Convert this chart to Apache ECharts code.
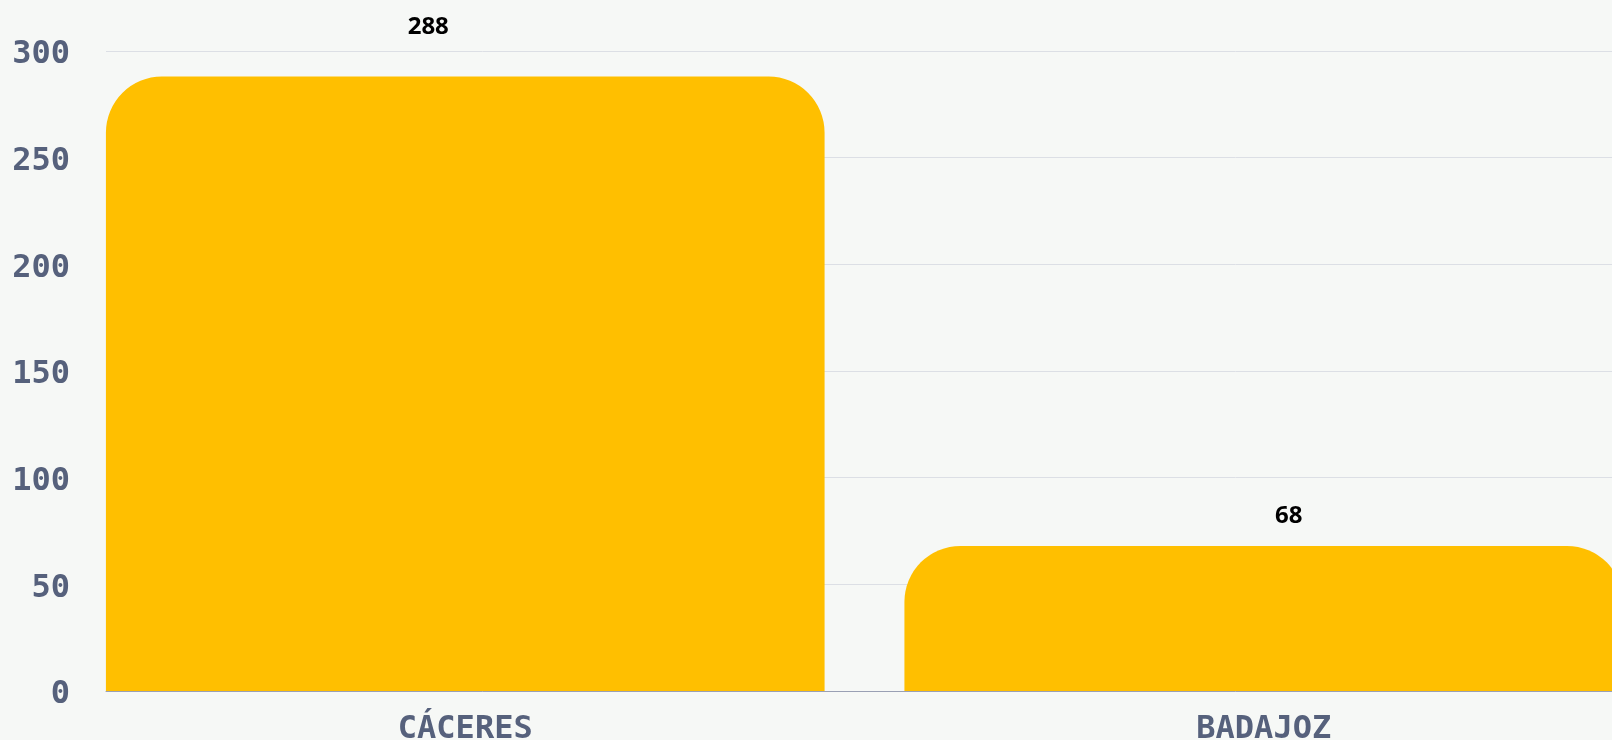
<!DOCTYPE html>
<html>
<head>
<meta charset="utf-8">
<script src="https://cdn.jsdelivr.net/npm/echarts@6/dist/echarts.min.js"></script>
<style>
  html, body { margin: 0; padding: 0; background: #f6f8f6; }
  #chart1 { width: 1612px; height: 740px; }
</style>
</head>
<body>
<div id="chart1"></div>
<script>
// datos
var provincias = ['CÁCERES', 'BADAJOZ'];
var valores = [288, 68];
var ticksY = [0, 50, 100, 150, 200, 250, 300];

window.onload = function() {
    chart1();
}

function chart1() {
    var myChart = echarts.init(document.getElementById('chart1'));

    var labelFont = 'DejaVu Sans Mono';
    var textColor = '#56617c';

    // posiciones de las etiquetas de valor
    var desplaz = [[-37, -32], [25, -13]];
    var datos = valores.map(function(v, i) {
        return {
            value: v,
            label: { offset: desplaz[i] }
        };
    });

    var option = {
        backgroundColor: '#f6f8f6',
        animation: false,
        grid: [
            { left: 106, right: 0, top: 51, bottom: 49, outerBoundsMode: 'none' },
            { left: 66, width: 1597, top: 51, bottom: 49, outerBoundsMode: 'none' }
        ],
        xAxis: [{
            gridIndex: 0,
            type: 'category',
            data: provincias,
            axisLine: { show: true, lineStyle: { color: '#9aa0b4', width: 1 } },
            axisTick: { show: false },
            axisLabel: { show: false }
        }, {
            gridIndex: 1,
            type: 'category',
            data: provincias,
            axisLine: { show: false },
            axisTick: { show: false },
            axisLabel: {
                margin: 23,
                color: textColor,
                fontFamily: labelFont,
                fontWeight: 'bold',
                fontSize: 32
            }
        }],
        yAxis: [{
            gridIndex: 0,
            type: 'value',
            min: ticksY[0],
            max: ticksY[ticksY.length - 1],
            interval: 50,
            axisLine: { show: false },
            axisTick: { show: false },
            axisLabel: {
                margin: 36,
                formatter: '{n|{value}}',
                rich: {
                    n: {
                        padding: [8, 0, 0, 0],
                        color: textColor,
                        fontFamily: labelFont,
                        fontWeight: 'bold',
                        fontSize: 32
                    }
                }
            },
            splitLine: {
                show: true,
                lineStyle: { color: '#dcdfe5', width: 1, type: 'solid' }
            }
        }, {
            gridIndex: 1,
            type: 'value',
            min: ticksY[0],
            max: ticksY[ticksY.length - 1],
            show: false,
            splitLine: { show: false }
        }],
        series: [{
            type: 'bar',
            xAxisIndex: 1,
            yAxisIndex: 1,
            barCategoryGap: '10%',
            data: datos,
            itemStyle: {
                color: '#ffbf00',
                borderRadius: [56, 56, 0, 0]
            },
            label: {
                show: true,
                position: 'top',
                color: '#000',
                fontFamily: 'Noto Sans',
                fontWeight: 'bold',
                fontSize: 24
            }
        }]
    };

    myChart.setOption(option);
}
</script>
</body>
</html>
